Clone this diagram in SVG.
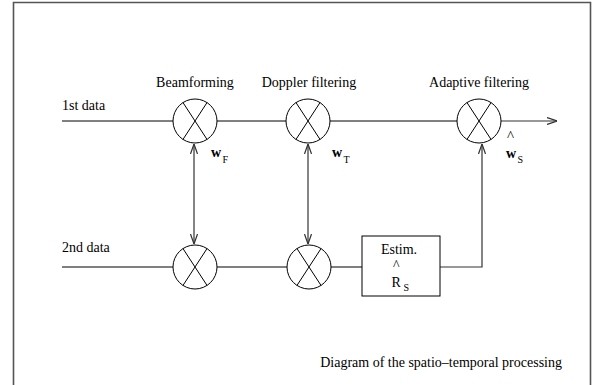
<svg xmlns="http://www.w3.org/2000/svg" width="598" height="385" viewBox="0 0 598 385">
<style>
text{font-family:"Liberation Serif","Times New Roman",serif;fill:#000}
.lbl{font-size:14px}
.w{font-size:14px;font-weight:bold}
.sub{font-size:10px;font-weight:normal}
.hat{font-weight:normal}
.c{fill:#fff;stroke:#000;stroke-width:1}
.x{stroke:#000;stroke-width:1}
.ln{fill:none;stroke:#000;stroke-width:1}
.ar{fill:none;stroke:#333;stroke-width:1.2}
</style>
<defs>
<marker id="ah" viewBox="0 0 10 8" refX="10" refY="4" markerWidth="10" markerHeight="8" markerUnits="userSpaceOnUse" orient="auto-start-reverse">
<path d="M0,0.5 L10,4 L0,7.5" fill="none" stroke="#333" stroke-width="1.2"/>
</marker>
</defs>
<rect width="598" height="385" fill="#fff"/>
<path d="M13.5,385 V2.5 H590.5 V385" fill="none" stroke="#555" stroke-width="1.6"/>

<g id="connectors">
<line class="ln" x1="62" y1="121" x2="173" y2="121"/>
<line class="ln" x1="217" y1="121" x2="286" y2="121"/>
<line class="ln" x1="330" y1="121" x2="457" y2="121"/>
<line class="ar" x1="501" y1="121" x2="557" y2="121" marker-end="url(#ah)"/>
<line class="ln" x1="62" y1="267" x2="173" y2="267"/>
<line class="ln" x1="217" y1="267" x2="287" y2="267"/>
<line class="ln" x1="331" y1="267" x2="362" y2="267"/>
<polyline class="ar" points="440,267 482,267 482,144" marker-end="url(#ah)"/>
<line class="ar" x1="194" y1="144" x2="194" y2="244" marker-start="url(#ah)" marker-end="url(#ah)"/>
<line class="ar" x1="308" y1="144" x2="308" y2="244" marker-start="url(#ah)" marker-end="url(#ah)"/>
</g>

<g id="mix1">
<circle class="c" cx="195" cy="121" r="22"/>
<line class="x" x1="183" y1="102.6" x2="207" y2="139.4"/>
<line class="x" x1="207" y1="102.6" x2="183" y2="139.4"/>
<text class="lbl" x="195" y="87" text-anchor="middle">Beamforming</text>
</g>
<g id="mix2">
<circle class="c" cx="308" cy="121" r="22"/>
<line class="x" x1="296" y1="102.6" x2="320" y2="139.4"/>
<line class="x" x1="320" y1="102.6" x2="296" y2="139.4"/>
<text class="lbl" x="309" y="87" text-anchor="middle">Doppler filtering</text>
</g>
<g id="mix3">
<circle class="c" cx="479" cy="121" r="22"/>
<line class="x" x1="467" y1="102.6" x2="491" y2="139.4"/>
<line class="x" x1="491" y1="102.6" x2="467" y2="139.4"/>
<text class="lbl" x="479" y="87" text-anchor="middle">Adaptive filtering</text>
</g>
<g id="mix4">
<circle class="c" cx="195" cy="267" r="22"/>
<line class="x" x1="183" y1="248.6" x2="207" y2="285.4"/>
<line class="x" x1="207" y1="248.6" x2="183" y2="285.4"/>
</g>
<g id="mix5">
<circle class="c" cx="309" cy="267" r="22"/>
<line class="x" x1="297" y1="248.6" x2="321" y2="285.4"/>
<line class="x" x1="321" y1="248.6" x2="297" y2="285.4"/>
</g>
<g id="estim">
<rect x="362" y="236" width="78" height="60" fill="#fff" stroke="#000" stroke-width="1"/>
<text class="lbl" x="399" y="254" text-anchor="middle">Estim.</text>
<text class="lbl" x="393" y="270">^</text>
<text class="lbl" x="391.5" y="286.5">R<tspan class="sub" x="403.5" y="291">S</tspan></text>
</g>

<g id="labels">
<text class="lbl" x="62" y="110">1st data</text>
<text class="lbl" x="62" y="252">2nd data</text>
<text class="w" x="211" y="157">w<tspan class="sub" x="222.5" y="163">F</tspan></text>
<text class="w" x="332" y="157">w<tspan class="sub" x="343.5" y="163">T</tspan></text>
<text class="hat" x="507" y="141" style="font-size:15px">^</text>
<text class="w" x="506" y="157.5">w<tspan class="sub" x="517.5" y="163">S</tspan></text>
<text class="lbl" x="562" y="367" text-anchor="end">Diagram of the spatio–temporal processing</text>
</g>
</svg>
